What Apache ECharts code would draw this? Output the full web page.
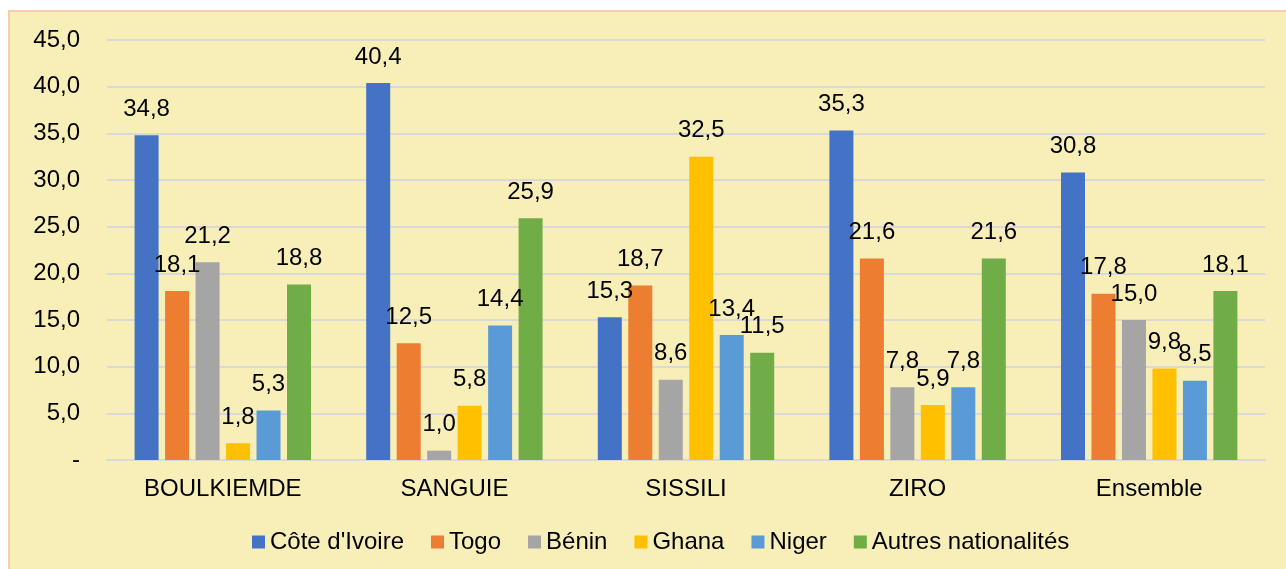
<!DOCTYPE html>
<html lang="fr">
<head>
  <meta charset="UTF-8">
  <title>Répartition par nationalité</title>
  <script src="https://cdn.jsdelivr.net/npm/echarts@6.0.0/dist/echarts.min.js"></script>
  <style>
    html, body { margin: 0; padding: 0; background: #ffffff; }
    /* yellow panel with the salmon border on top and left */
    #chart-container {
      position: absolute;
      left: 8px;
      top: 10px;
      width: 1278px;
      height: 559px;
      box-sizing: border-box;
      border-top: 2px solid #F8CBAD;
      border-left: 2px solid #F8CBAD;
      background: #F7EFB7;
    }
  </style>
</head>
<body>
  <div id="chart-container"></div>

  <script>
    // categories and series values (%)
    const provinces = ['BOULKIEMDE', 'SANGUIE', 'SISSILI', 'ZIRO', 'Ensemble'];
    const coteIvoire = [34.8, 40.4, 15.3, 35.3, 30.8];
    const togo = [18.1, 12.5, 18.7, 21.6, 17.8];
    const benin = [21.2, 1.0, 8.6, 7.8, 15.0];
    const ghana = [1.8, 5.8, 32.5, 5.9, 9.8];
    const niger = [5.3, 14.4, 13.4, 7.8, 8.5];
    const autres = [18.8, 25.9, 11.5, 21.6, 18.1];

    const seriesNames = ["Côte d'Ivoire", 'Togo', 'Bénin', 'Ghana', 'Niger', 'Autres nationalités'];
    const seriesData = [coteIvoire, togo, benin, ghana, niger, autres];
    const colors = ['#4472C4', '#ED7D31', '#A5A5A5', '#FFC000', '#5B9BD5', '#70AD47'];

    const font = 'Liberation Sans, Arial, sans-serif';

    // French decimal comma
    function fmt(v) {
      return v.toFixed(1).replace('.', ',');
    }

    const option = {
      animation: false,
      color: colors,
      textStyle: { fontFamily: font },
      grid: { left: 97, right: 21, top: 28, bottom: 109 },
      legend: {
        data: seriesNames,
        left: 237,
        top: 513,
        itemWidth: 13,
        itemHeight: 13,
        itemGap: 27,
        icon: 'rect',
        textStyle: { fontSize: 24, color: '#000', fontFamily: font }
      },
      xAxis: {
        type: 'category',
        data: provinces,
        axisTick: { show: false },
        axisLine: { lineStyle: { color: '#D9D9D9', width: 2 } },
        axisLabel: { fontSize: 24, color: '#000', margin: 17, fontFamily: font }
      },
      yAxis: {
        type: 'value',
        min: 0,
        max: 45,
        interval: 5,
        axisLine: { show: false },
        axisTick: { show: false },
        splitLine: { lineStyle: { color: '#D9D9D9', width: 2 } },
        axisLabel: {
          fontSize: 24,
          color: '#000',
          margin: 27,
          fontFamily: font,
          formatter: function (v) { return v === 0 ? '-' : fmt(v); }
        }
      },
      series: seriesNames.map(function (name, i) {
        return {
          name: name,
          type: 'bar',
          data: seriesData[i],
          barWidth: 24,
          barGap: '27%',
          label: {
            show: true,
            position: 'top',
            distance: 14,
            fontSize: 24,
            color: '#000',
            fontFamily: font,
            formatter: function (p) { return fmt(p.value); }
          }
        };
      })
    };

    const myChart = echarts.init(document.getElementById('chart-container'));
    myChart.setOption(option);
  </script>
</body>
</html>
